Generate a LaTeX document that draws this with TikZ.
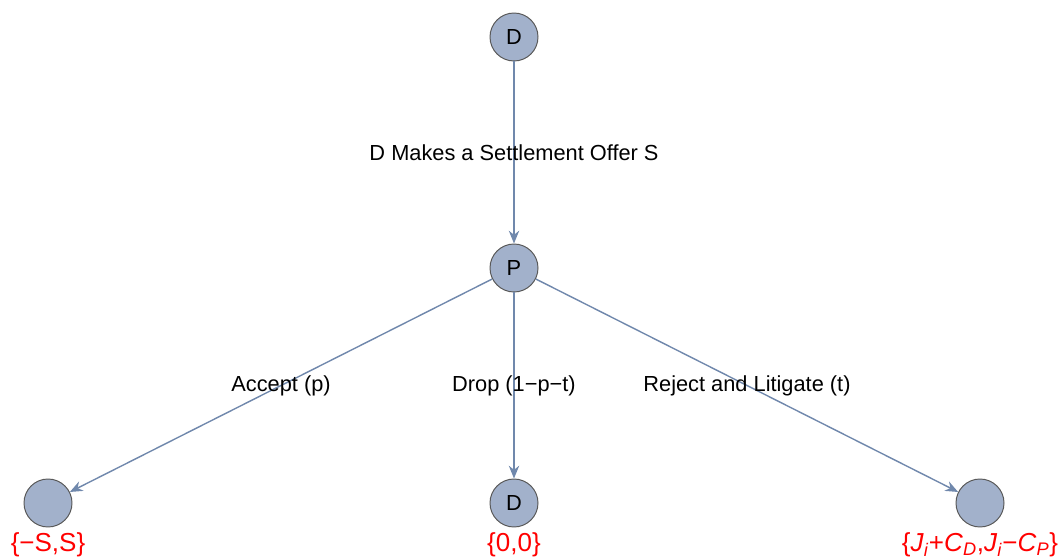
\documentclass[tikz,border=0pt]{standalone}
\usepackage{fontspec}
\setmainfont{Liberation Sans}
\usetikzlibrary{positioning}
\usetikzlibrary{arrows.meta}
\definecolor{vertexfill}{RGB}{162,177,203}
\definecolor{edgeblue}{RGB}{112,136,172}
\newcommand{\itsub}[2]{\textit{#1}\textsubscript{\textit{#2}}}
\tikzset{
player/.style={draw=black!65,fill=vertexfill,circle,minimum size=1.2cm,inner sep=0pt,line width=0.7pt},
payoff/.style={player,label={[text=red,font=\fontsize{18.5}{21}\selectfont]below:#1}},
move/.style={draw=edgeblue,line width=1pt,-{Stealth[length=0.32cm,width=0.26cm]}},
}

\begin{document}
\begin{tikzpicture}[font=\fontsize{15.5}{18}\selectfont, on grid]
\useasboundingbox (0,0) rectangle (26.55,-13.95);
%Place the nodes
\node[player] (d) at (12.85,-0.925) {D};
\node[player, below=5.775cm of d] (p) {P};
\node[payoff={\{0,0\}}, below=5.875cm of p] (drop) {D};
\node[payoff={\{−S,S\}}, below left=5.875cm and 11.65cm of p] (accept) {};
\node[payoff={\{\itsub{J}{i}+\itsub{C}{D},\itsub{J}{i}−\itsub{C}{P}\}}, below right=5.875cm and 11.65cm of p] (reject) {};

%Moves
\draw[move] (d) to node[midway] {D Makes a Settlement Offer S} (p);
\draw[move] (p) to node[midway] {Accept (p)} (accept);
\draw[move] (p) to node[midway] {Drop (1−p−t)} (drop);
\draw[move] (p) to node[midway] {Reject and Litigate (t)} (reject);

\end{tikzpicture}
\end{document}
